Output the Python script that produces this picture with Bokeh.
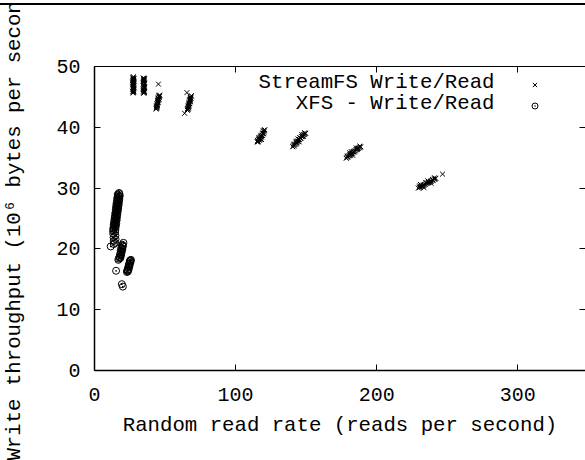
from bokeh.plotting import figure
from bokeh.models import (LinearAxis, FixedTicker, CustomJSTickFormatter, Label,
                          Legend, LegendItem, ColumnDataSource, Div)
from bokeh.layouts import column
from bokeh.core.properties import value
from bokeh.embed import file_html
from bokeh.resources import INLINE

# ---------------- data ----------------
streamfs_read = [
    27.6, 27.2, 27.9, 27.4, 27.7, 27.1, 27.8, 27.5, 27.3, 27.9, 27.6, 27.2, 27.8, 27.4, 27.6, 27.1, 27.9, 27.5, 27.3, 27.7,
    27.3, 27.8, 27.5, 27.2, 27.9, 27.4, 27.7, 27.3, 27.6, 27.8,
    34.6, 35.2, 34.9, 35.3, 34.7, 35.0, 35.4, 34.8, 35.1, 34.6, 35.3, 34.9, 35.2, 34.7, 35.0, 35.3, 34.8, 35.1, 34.9, 35.2,
    34.8, 35.3, 34.7, 35.1, 35.4, 34.9, 35.2, 34.6, 35.0, 35.3,
    45.3,
    43.7, 43.9, 44.2, 44.0, 44.4, 44.6, 44.3, 44.8, 45.0, 44.7, 45.2, 45.4, 45.1, 45.6, 45.8, 45.5, 46.0, 46.2,
    44.0, 44.5, 45.0, 45.5, 45.9, 44.2, 44.9, 45.7,
    65.5, 63.9,
    65.8, 66.1, 66.0, 66.4, 66.6, 66.5, 66.9, 67.1, 67.0, 67.4, 67.6, 67.5, 67.9, 68.1, 68.0, 68.4, 68.6,
    66.2, 66.8, 67.3, 67.8, 68.3, 66.6, 67.6,
    115.3, 115.6, 115.9, 116.2, 116.5, 116.8, 117.1, 117.4, 117.7, 118.0, 118.3, 118.6, 118.9, 119.2, 119.5, 119.8,
    120.2, 120.6, 116.6, 118.4, 119.6, 115.8, 116.9, 118.1, 119.3, 120.3,
    140.5, 141.0, 141.5, 142.0, 142.5, 143.0, 143.4, 143.9, 144.4, 144.9, 145.3, 145.8, 146.3, 146.8, 147.2, 147.7,
    148.2, 148.7, 149.2, 149.7, 142.8, 145.0, 147.0, 144.2, 141.3, 143.2, 145.6, 147.9, 149.0,
    178.4, 178.9, 179.5, 180.0, 180.6, 181.1, 181.6, 182.2, 182.7, 183.2, 183.8, 184.3, 184.8, 185.4, 185.9, 186.5,
    187.0, 187.6, 188.1, 188.7, 180.8, 183.0, 185.6, 182.0, 179.2, 181.4, 183.9, 186.1, 188.0,
    229.5, 230.2, 230.8, 231.5, 232.1, 232.8, 233.4, 234.1, 234.7, 235.4, 236.0, 236.7, 237.3, 238.0, 238.6, 239.3,
    240.0, 240.6, 241.3, 241.9, 246.7, 231.0, 233.5, 236.2, 238.5, 230.5, 232.6, 234.9, 237.0, 239.6, 241.0,
]
streamfs_write = [
    48.3, 48.1, 47.95, 47.8, 47.6, 47.45, 47.3, 47.15, 47.0, 46.85, 46.7, 46.55, 46.4, 46.25, 46.1, 45.95, 45.85, 45.75, 45.65, 47.7,
    48.2, 48.05, 47.9, 47.7, 47.5, 47.2, 46.9, 46.6, 46.3, 46.0,
    48.1, 48.0, 47.85, 47.7, 47.55, 47.4, 47.25, 47.1, 46.95, 46.8, 46.65, 46.5, 46.35, 46.2, 46.05, 45.9, 45.8, 45.7, 45.6, 47.95,
    48.05, 47.9, 47.65, 47.45, 47.2, 46.9, 46.6, 46.3, 46.0, 45.75,
    47.1,
    43.0, 43.15, 43.3, 43.45, 43.6, 43.75, 43.9, 44.05, 44.2, 44.35, 44.5, 44.65, 44.8, 44.95, 45.1, 44.7, 45.2, 45.3,
    43.2, 43.7, 44.1, 44.6, 45.0, 43.5, 44.4, 45.15,
    45.7, 42.3,
    42.8, 42.95, 43.1, 43.25, 43.4, 43.55, 43.7, 43.85, 44.0, 44.15, 44.3, 44.45, 44.6, 44.75, 44.9, 45.05, 45.2,
    43.0, 43.5, 43.9, 44.3, 44.8, 43.2, 44.5,
    37.6, 37.8, 37.7, 37.95, 38.0, 37.9, 38.2, 38.1, 38.35, 38.5, 38.4, 38.7, 38.65, 38.9, 39.1, 39.0,
    39.3, 39.6, 38.3, 38.0, 39.4, 37.6, 38.05, 38.6, 39.0, 39.5,
    36.8, 36.95, 37.0, 37.2, 37.25, 37.45, 37.5, 37.7, 37.75, 37.95, 38.0, 38.2, 38.2, 38.45, 38.5, 38.6,
    38.75, 38.8, 38.95, 39.0, 37.7, 37.6, 38.8, 38.1, 37.2, 37.4, 38.3, 38.5, 39.1,
    34.9, 35.05, 35.1, 35.3, 35.35, 35.5, 35.55, 35.7, 35.75, 35.9, 35.95, 36.1, 36.15, 36.3, 36.35, 36.5,
    36.55, 36.65, 36.7, 36.8, 35.8, 35.4, 36.6, 36.0, 35.25, 35.4, 36.0, 36.4, 36.9,
    30.0, 30.1, 30.15, 30.3, 30.35, 30.45, 30.5, 30.6, 30.65, 30.8, 30.85, 30.95, 31.0, 31.1, 31.15, 31.25,
    31.3, 31.45, 31.5, 31.6, 32.3, 30.6, 30.1, 31.2, 30.8, 30.35, 30.3, 30.9, 30.9, 31.4, 31.7,
]

xfs_read = [
    17.4, 16.5, 17.9, 16.2, 17.6, 15.9, 17.3, 15.6, 17.1, 15.3, 16.8, 15.1, 16.5, 14.8, 16.2, 14.5, 15.9, 14.2,
    15.7, 13.9, 15.4, 13.6, 15.1, 13.4, 14.8, 13.1,
    17.7, 16.8, 17.4, 16.5, 17.15, 16.2, 16.9, 15.9, 16.6, 15.65, 16.3, 15.4, 16.0, 15.1, 15.75, 14.8,
    15.45, 14.5, 15.2, 14.2, 14.9, 13.95, 14.6, 13.7,
    14.6, 13.3, 14.8, 13.5, 14.9, 13.6, 14.5, 13.7, 11.5,
    20.5, 19.6, 20.1, 19.0, 19.7, 18.6, 19.2, 18.2, 18.8, 17.7, 18.3, 17.3, 16.9, 15.3,
    19.9, 19.4, 18.9, 18.5, 18.0,
    25.8, 25.0, 25.4, 24.6, 24.8, 24.0, 24.3, 23.4, 23.7, 23.0, 25.6, 24.4, 19.4, 20.1,
    25.3, 24.7, 24.2, 23.6, 23.3,
]
xfs_write = [
    29.2, 28.95, 28.7, 28.45, 28.2, 27.95, 27.7, 27.45, 27.2, 26.95, 26.7, 26.45, 26.2, 25.95, 25.7, 25.45, 25.2, 24.95,
    24.7, 24.45, 24.2, 23.95, 23.7, 23.45, 23.2, 23.0,
    29.05, 28.8, 28.55, 28.3, 28.05, 27.8, 27.55, 27.3, 27.05, 26.8, 26.55, 26.3, 26.05, 25.8, 25.55, 25.3,
    25.05, 24.8, 24.55, 24.3, 24.05, 23.8, 23.55, 23.3,
    22.8, 22.5, 22.2, 21.9, 21.6, 21.3, 21.0, 20.8, 20.4,
    21.0, 20.7, 20.4, 20.2, 19.9, 19.7, 19.4, 19.2, 18.9, 18.7, 18.5, 18.4, 18.2, 16.4,
    20.55, 20.05, 19.55, 19.05, 18.6,
    18.2, 17.95, 17.7, 17.5, 17.2, 17.0, 16.7, 16.5, 16.3, 16.2, 18.0, 17.3, 14.2, 13.8,
    18.1, 17.6, 17.15, 16.6, 16.4,
]

x_ticks = [0, 100, 200, 300]
y_ticks = [0, 10, 20, 30, 40, 50]
series_labels = ["StreamFS Write/Read", "XFS - Write/Read"]
x_title = "Random read rate (reads per second)"
y_title = "Write throughput (10\u2076 bytes per second)"

FONT = "Liberation Mono"
FS = "20.7px"
TICK_FS = "20px"

p = figure(width=585, height=455, x_range=(0, 348), y_range=(0, 50),
           output_backend="svg", toolbar_location=None,
           min_border_left=94, min_border_right=0, min_border_top=61, min_border_bottom=90,
           background_fill_color="white", border_fill_color="white", margin=0)
p.outline_line_color = None
p.grid.visible = False

for ax in (p.xaxis[0], p.yaxis[0]):
    ax.major_tick_in = 6
    ax.major_tick_out = 0
    ax.minor_tick_line_color = None
    ax.axis_line_color = "black"
    ax.axis_line_width = 1.5
    ax.major_tick_line_color = "black"
    ax.major_label_text_font = FONT
    ax.major_label_text_font_size = TICK_FS
    ax.major_label_text_color = "black"
    ax.axis_label_text_font = FONT
    ax.axis_label_text_font_size = FS
    ax.axis_label_text_font_style = "normal"
    ax.axis_label_text_color = "black"

p.xaxis[0].ticker = FixedTicker(ticks=x_ticks)
p.yaxis[0].ticker = FixedTicker(ticks=y_ticks)
p.xaxis[0].axis_label = x_title
p.yaxis[0].axis_label = y_title
p.xaxis[0].major_label_standoff = 17
p.xaxis[0].axis_label_standoff = 10
p.yaxis[0].major_label_standoff = 14
p.yaxis[0].axis_label_standoff = 27

blank = CustomJSTickFormatter(code="return ''")
top_ax = LinearAxis(ticker=FixedTicker(ticks=x_ticks), formatter=blank,
                    major_tick_in=6, major_tick_out=0, minor_tick_line_color=None,
                    axis_line_color="black", axis_line_width=1)
right_ax = LinearAxis(ticker=FixedTicker(ticks=y_ticks), formatter=blank,
                      major_tick_in=6, major_tick_out=0, minor_tick_line_color=None,
                      axis_line_color=None)
p.add_layout(top_ax, "above")
p.add_layout(right_ax, "right")

src_s = ColumnDataSource(dict(x=streamfs_read, y=streamfs_write))
src_x = ColumnDataSource(dict(x=xfs_read, y=xfs_write))
r1 = p.scatter("x", "y", source=src_s, marker="x", size=7, line_color="black", line_width=1)
r2 = p.scatter("x", "y", source=src_x, marker="circle_dot", size=7, line_color="black",
               fill_color=None, line_width=1)

# legend texts (right aligned) with samples drawn to the right of the text
for i, lab in enumerate(series_labels):
    p.add_layout(Label(x=400, y=288 - 21 * i, x_units="screen", y_units="screen",
                       text=lab, text_align="right", text_baseline="middle",
                       text_font=FONT, text_font_size=FS, text_color="black"))

leg = Legend(items=[LegendItem(label=value(""), renderers=[r1]),
                    LegendItem(label=value(""), renderers=[r2])],
             location=(433, 255), padding=0, margin=0, spacing=1,
             glyph_width=15, glyph_height=15, label_width=0, label_height=20,
             label_standoff=0, border_line_color=None, background_fill_alpha=0)
p.add_layout(leg, "center")

# black rule along the very top of the picture
rule = Div(text="", width=585, height=5, margin=0,
           styles={"border-bottom": "2px solid black", "box-sizing": "border-box"})

layout = column(rule, p, spacing=0, margin=0)
open("out.html", "w").write(file_html(layout, INLINE))
